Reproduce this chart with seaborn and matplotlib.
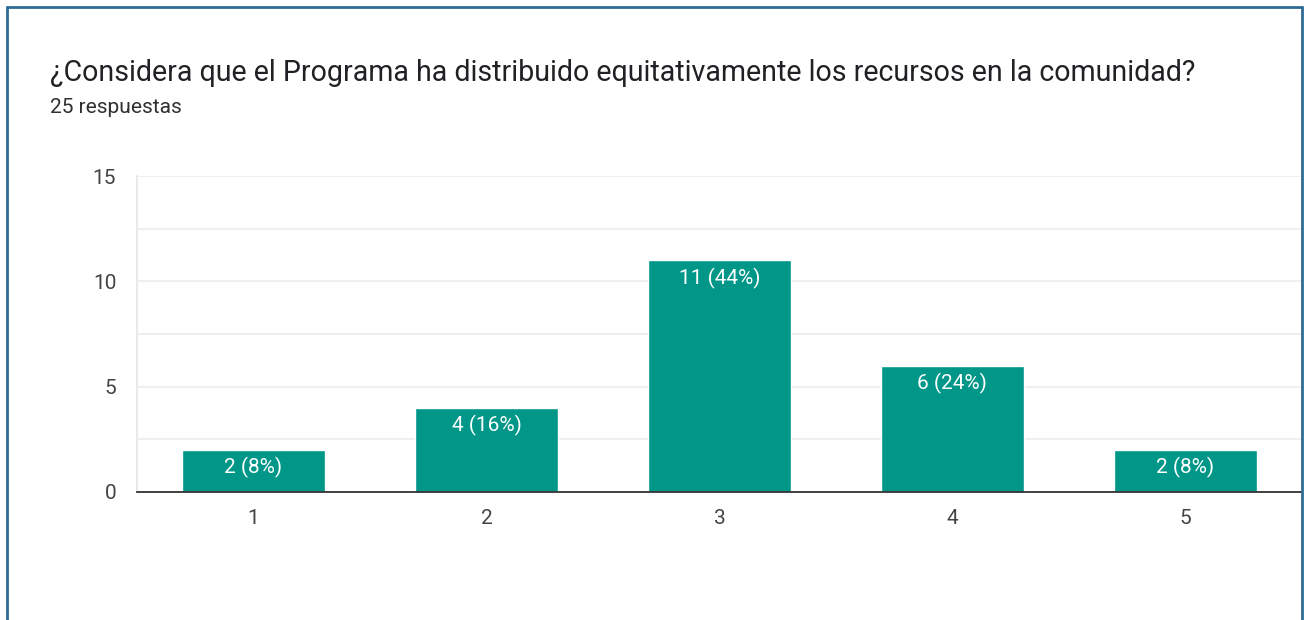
import matplotlib

matplotlib.use("Agg")
import matplotlib.pyplot as plt
import pandas as pd
import seaborn as sns
from matplotlib.lines import Line2D

# survey answers (scale 1-5) and counts
categories = ["1", "2", "3", "4", "5"]
counts = [2, 4, 11, 6, 2]
labels = ["2 (8%)", "4 (16%)", "11 (44%)", "6 (24%)", "2 (8%)"]
title = "¿Considera que el Programa ha distribuido equitativamente los recursos en la comunidad?"
subtitle = "25 respuestas"

sns.set_theme(style="white")
plt.rcParams["font.family"] = ["Roboto", "DejaVu Sans"]

df = pd.DataFrame({"opcion": categories, "respuestas": counts})

fig = plt.figure(figsize=(13.05, 6.2), dpi=100)
ax = fig.add_axes([0.105, 0.2065, 0.8925, 0.5095])

sns.barplot(data=df, x="opcion", y="respuestas", color="#009688",
            saturation=1, width=0.615, ax=ax, zorder=3)

ax.set_xlim(-0.5, 4.5)
ax.set_ylim(0, 15)
ax.set_yticks([0, 5, 10, 15])
ax.set_yticks([2.5, 7.5, 12.5], minor=True)
ax.grid(True, axis="y", which="both", color="#ececec", linewidth=1.2, zorder=0)
ax.set_xlabel("")
ax.set_ylabel("")
ax.tick_params(axis="both", length=0, labelsize=15, labelcolor="#444444")
ax.tick_params(axis="y", pad=15)
ax.tick_params(axis="x", pad=12)
for side in ["top", "right"]:
    ax.spines[side].set_visible(False)
ax.spines["left"].set_color("#e6e6e6")
ax.spines["left"].set_linewidth(1.2)
ax.spines["bottom"].set_color("#333333")
ax.spines["bottom"].set_linewidth(1.3)
ax.spines["bottom"].set_zorder(4)

for i, (v, lab) in enumerate(zip(counts, labels)):
    ax.annotate(lab, (i, v), xytext=(0, -13), textcoords="offset points",
                ha="center", va="center", color="white", fontsize=15, zorder=5)

fig.text(0.0383, 0.882, title, fontsize=20.6, color="#202124", va="center")
fig.text(0.0383, 0.826, subtitle, fontsize=15, color="#303030", va="center")

# blue frame around the screenshot
frame = dict(color="#2f6b96", linewidth=2, transform=fig.transFigure)
fig.add_artist(Line2D([0.0057, 0.0057], [0.0, 0.988], **frame))
fig.add_artist(Line2D([0.0057, 0.9975], [0.988, 0.988], **frame))
fig.add_artist(Line2D([0.9975, 0.9975], [0.0, 0.988], **frame))

fig.savefig("out.png", dpi=100)
